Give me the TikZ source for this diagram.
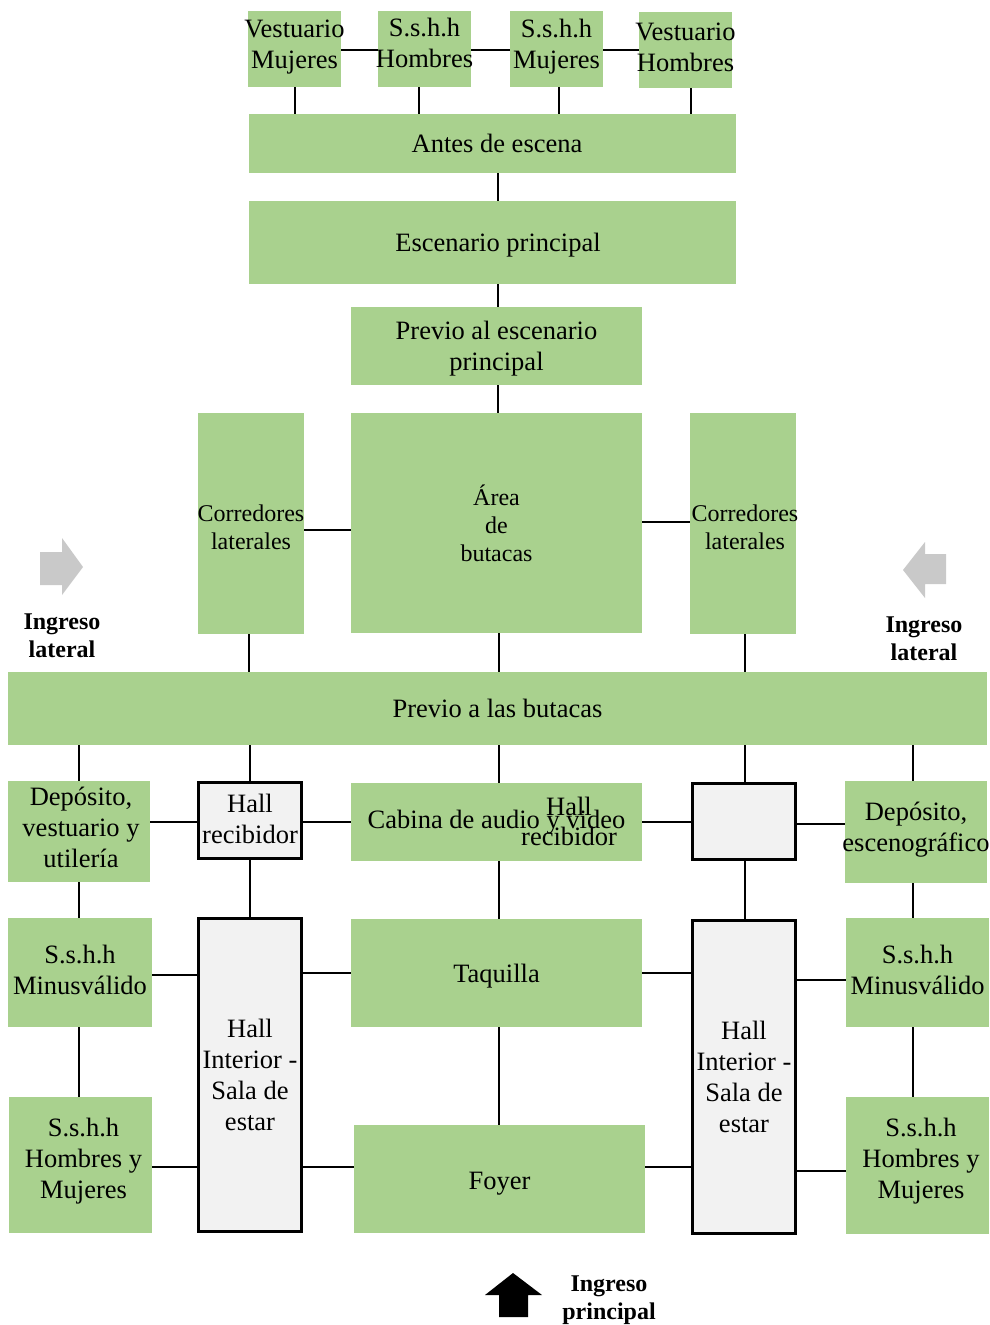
\documentclass[tikz,border=0pt]{standalone}
\usepackage{fontspec}
\setmainfont{Liberation Serif}
\definecolor{boxgreen}{HTML}{A9D18E}
\definecolor{hallgray}{HTML}{F2F2F2}
\definecolor{arrowgray}{HTML}{C9C9C9}
% \zz{doubled x shift}{raise}{line}: zero-width centred line, moved without changing its box
\newcommand{\zz}[3]{\raisebox{#2}[\height][\depth]{\makebox[0pt]{\hspace*{#1}#3}}}
\newcommand{\zw}[1]{\makebox[0pt]{#1}}
\begin{document}
\begin{tikzpicture}[x=1pt,y=-1pt,
  font=\fontsize{26.5}{31}\selectfont,
  gbox/.style={fill=boxgreen, draw=none, inner sep=0pt, align=center},
  hbox/.style={fill=hallgray, draw=black, line width=3pt, inner sep=0pt, align=center},
  conn/.style={draw=black, line width=1.2pt},
  lbl/.style={font=\bfseries\fontsize{24}{28}\selectfont, align=center},
  smalltxt/.style={font=\fontsize{24}{28}\selectfont},
  garrow/.style={fill=arrowgray, draw=none},
  barrow/.style={fill=black, draw=none}]
\fill[white] (0,0) rectangle (990,1325);
\useasboundingbox (0,0) rectangle (990,1325);

% top row
\node[gbox, minimum width=93pt, minimum height=76pt] (vm) at (294.5,49) {\zz{0pt}{2pt}{Vestuario}\\\zz{0pt}{2pt}{Mujeres}};
\node[gbox, minimum width=93pt, minimum height=76pt] (sh) at (424.5,49) {\zz{0pt}{6.5pt}{S.s.h.h}\\\zz{0pt}{6.5pt}{Hombres}};
\node[gbox, minimum width=93pt, minimum height=76pt] (sm) at (556.5,49) {\zz{0pt}{2pt}{S.s.h.h}\\\zz{0pt}{2pt}{Mujeres}};
\node[gbox, minimum width=93pt, minimum height=76pt] (vh) at (685.5,50) {\zz{0pt}{3pt}{Vestuario}\\\zz{0pt}{3pt}{Hombres}};

\node[gbox, minimum width=487pt, minimum height=59pt] (antes) at (492.5,143.5) {\zz{9pt}{0pt}{Antes de escena}};
\node[gbox, minimum width=487pt, minimum height=83pt] (esc) at (492.5,242.5) {\zz{11pt}{-3pt}{Escenario principal}};
\node[gbox, minimum width=291pt, minimum height=78pt] (prev) at (496.5,346) {\zz{0pt}{-2.5pt}{Previo al escenario}\\\zz{0pt}{-2.5pt}{principal}};
\node[gbox, minimum width=291pt, minimum height=220pt, smalltxt] (area) at (496.5,523) {Área\\de\\butacas};
\node[gbox, minimum width=106pt, minimum height=221pt, smalltxt] (corL) at (251,523.5) {\zz{0pt}{-4pt}{Corredores}\\\zz{0pt}{-4pt}{laterales}};
\node[gbox, minimum width=106pt, minimum height=221pt, smalltxt] (corR) at (743,523.5) {\zz{4pt}{-4pt}{Corredores}\\\zz{4pt}{-4pt}{laterales}};

\node[gbox, minimum width=979pt, minimum height=73pt] (pb) at (497.5,708.5) {Previo a las butacas};

% row 3
\node[gbox, minimum width=142pt, minimum height=101pt] (depL) at (79,831.5) {\zz{4pt}{4pt}{Depósito,}\\\zz{4pt}{4pt}{vestuario y}\\\zz{4pt}{4pt}{utilería}};
\node[hbox, minimum width=103.5pt, minimum height=76.5pt] (hallL) at (250,820.5) {\zz{0pt}{2pt}{Hall}\\\zz{0pt}{2pt}{recibidor}};
\node[gbox, minimum width=291pt, minimum height=78pt] (cab) at (496.5,822) {\zw{Cabina de audio y video}};
\node[hbox, minimum width=103.5pt, minimum height=76.5pt] (hallR) at (744,821.5) {};
\node[gbox, minimum width=142pt, minimum height=102pt] (depR) at (916,832) {\zz{0pt}{2pt}{Depósito,}\\\zz{0pt}{2pt}{escenográfico}};
\node[align=center, font=\fontsize{26.5}{30}\selectfont] (hallRtext) at (569,821) {Hall\\recibidor};

% row 4
\node[gbox, minimum width=144pt, minimum height=109pt] (minL) at (80,972.5) {\zz{0pt}{3pt}{S.s.h.h}\\\zz{0pt}{3pt}{Minusválido}};
\node[hbox, minimum width=103.5pt, minimum height=313.5pt] (hiL) at (250,1075) {\zw{Hall}\\\zw{Interior -}\\\zw{Sala de}\\\zw{estar}};
\node[gbox, minimum width=291pt, minimum height=108pt] (taq) at (496.5,973) {\zz{0pt}{-3pt}{Taquilla}};
\node[hbox, minimum width=103.5pt, minimum height=313.5pt] (hiR) at (744,1077) {\zw{Hall}\\\zw{Interior -}\\\zw{Sala de}\\\zw{estar}};
\node[gbox, minimum width=143pt, minimum height=109pt] (minR) at (917.5,972.5) {\zz{0pt}{3pt}{S.s.h.h}\\\zz{0pt}{3pt}{Minusválido}};

% row 5
\node[gbox, minimum width=143pt, minimum height=136pt] (hmL) at (80.5,1165) {\zz{6pt}{4pt}{S.s.h.h}\\\zz{6pt}{4pt}{Hombres y}\\\zz{6pt}{4pt}{Mujeres}};
\node[gbox, minimum width=291pt, minimum height=108pt] (foyer) at (499.5,1179) {\zz{0pt}{-5pt}{Foyer}};
\node[gbox, minimum width=143pt, minimum height=137pt] (hmR) at (917.5,1165.5) {\zz{7pt}{4pt}{S.s.h.h}\\\zz{7pt}{4pt}{Hombres y}\\\zz{7pt}{4pt}{Mujeres}};

% labels
\node[lbl] (ingL) at (62,636) {Ingreso\\lateral};
\node[lbl] (ingR) at (924,638.5) {Ingreso\\lateral};
\node[lbl] (ingP) at (609,1300) {Ingreso\\principal};

% arrows
\fill[garrow] (40,552) -- (62,552) -- (62,538) -- (83,567) -- (62,595) -- (62,585) -- (40,585) -- cycle;
\fill[garrow] (946,554) -- (925,554) -- (925,542) -- (903,570) -- (925,598) -- (925,584) -- (946,584) -- cycle;
\fill[barrow] (499,1317) -- (499,1295) -- (485,1295) -- (513,1273) -- (542,1295) -- (528,1295) -- (528,1317) -- cycle;

% connectors top
\draw[conn] ([yshift=-1]vm.east) -- ([yshift=-1]sh.west);
\draw[conn] ([yshift=-1]sh.east) -- ([yshift=-1]sm.west);
\draw[conn] ([yshift=-1]sm.east) -- ([yshift=-1]sm.east -| vh.west);
\draw[conn] ([xshift=0.5]vm.south) -- ([xshift=0.5]vm.south |- antes.north);
\draw[conn] ([xshift=-5.5]sh.south) -- ([xshift=-5.5]sh.south |- antes.north);
\draw[conn] ([xshift=2.5]sm.south) -- ([xshift=2.5]sm.south |- antes.north);
\draw[conn] ([xshift=5.5]vh.south) -- ([xshift=5.5]vh.south |- antes.north);
\draw[conn] ([xshift=5.5]antes.south) -- ([xshift=5.5]antes.south |- esc.north);
\draw[conn] ([xshift=1.5]prev.north) -- ([xshift=1.5]prev.north |- esc.south);
\draw[conn] ([xshift=1.5]prev.south) -- ([xshift=1.5]prev.south |- area.north);
\draw[conn] ([yshift=-6.5]corL.east) -- ([yshift=-6.5]corL.east -| area.west);
\draw[conn] ([yshift=1]area.east) -- ([yshift=1]area.east -| corR.west);
\draw[conn] ([xshift=-2]corL.south) -- ([xshift=-2]corL.south |- pb.north);
\draw[conn] ([xshift=2.5]area.south) -- ([xshift=2.5]area.south |- pb.north);
\draw[conn] ([xshift=2]corR.south) -- ([xshift=2]corR.south |- pb.north);

% previo butacas to row 3
\draw[conn] (depL.north) -- (depL.north |- pb.south);
\draw[conn] (hallL.north) -- (hallL.north |- pb.south);
\draw[conn] ([xshift=2.5]cab.north) -- ([xshift=2.5]cab.north |- pb.south);
\draw[conn] ([xshift=1]hallR.north) -- ([xshift=1]hallR.north |- pb.south);
\draw[conn] ([xshift=-3]depR.north) -- ([xshift=-3]depR.north |- pb.south);

% row 3 horizontals
\draw[conn] ([yshift=-1.5]hallL.west -| depL.east) -- ([yshift=-1.5]hallL.west);
\draw[conn] ([yshift=-1.5]hallL.east) -- ([yshift=-1.5]hallL.east -| cab.west);
\draw[conn] (cab.east) -- (cab.east -| hallR.west);
\draw[conn] ([yshift=-2.5]hallR.east) -- ([yshift=-2.5]hallR.east -| depR.west);

% row 3 to row 4
\draw[conn] (depL.south) -- (depL.south |- minL.north);
\draw[conn] (hallL.south) -- (hallL.south |- hiL.north);
\draw[conn] ([xshift=2.5]cab.south) -- ([xshift=2.5]cab.south |- taq.north);
\draw[conn] ([xshift=1]hallR.south) -- ([xshift=1]hallR.south |- hiR.north);
\draw[conn] ([xshift=-3]depR.south) -- ([xshift=-3]depR.south |- minR.north);

% row 4 horizontals
\draw[conn] ([yshift=-2.5]minL.east) -- ([yshift=-2.5]minL.east -| hiL.west);
\draw[conn] (taq.west -| hiL.east) -- (taq.west);
\draw[conn] (taq.east) -- (taq.east -| hiR.west);
\draw[conn] ([yshift=-7.5]minR.west -| hiR.east) -- ([yshift=-7.5]minR.west);

% row 4 to row 5
\draw[conn] ([xshift=-1]minL.south) -- ([xshift=-1]minL.south |- hmL.north);
\draw[conn] ([xshift=2.5]taq.south) -- ([xshift=2.5]taq.south |- foyer.north);
\draw[conn] ([xshift=-4.5]minR.south) -- ([xshift=-4.5]minR.south |- hmR.north);

% row 5 horizontals
\draw[conn] ([yshift=-2]hmL.east) -- ([yshift=-2]hmL.east -| hiL.west);
\draw[conn] ([yshift=12]foyer.west -| hiL.east) -- ([yshift=12]foyer.west);
\draw[conn] ([yshift=12]foyer.east) -- ([yshift=12]foyer.east -| hiR.west);
\draw[conn] ([yshift=-5.5]hmR.west -| hiR.east) -- ([yshift=-5.5]hmR.west);
\end{tikzpicture}
\end{document}
